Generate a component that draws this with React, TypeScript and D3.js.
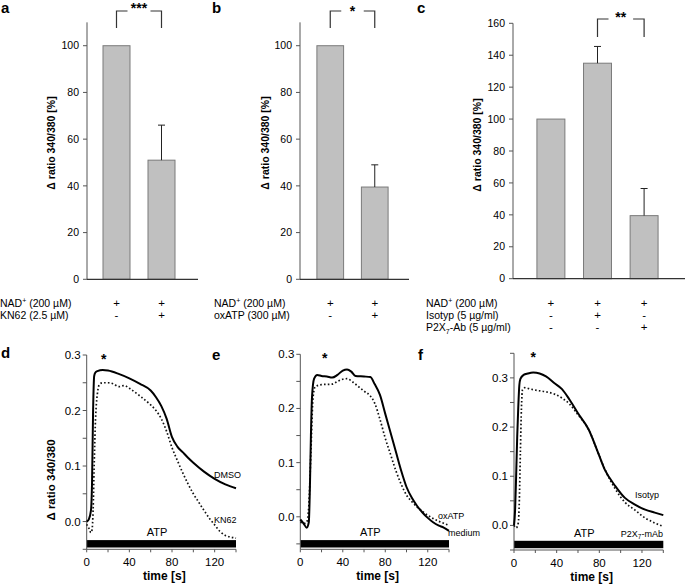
import React from "react";
import * as d3 from "d3";

const FONT = "'Liberation Sans', Arial, Helvetica, sans-serif";

// ---------- Bar panels (a, b, c) ----------
const catsA = ["NAD", "NAD+KN62"];
const valuesA = [100, 51];
const errorsA = [0, 15];
const signsA = [
  ["+", "+"],
  ["-", "+"],
];

const catsB = ["NAD", "NAD+oxATP"];
const valuesB = [100, 39.5];
const errorsB = [0, 9.5];
const signsB = [
  ["+", "+"],
  ["-", "+"],
];

const catsC = ["NAD", "NAD+Isotyp", "NAD+P2X7-Ab"];
const valuesC = [100, 135, 39.5];
const errorsC = [0, 10.5, 17];
const signsC = [
  ["+", "+", "+"],
  ["-", "+", "-"],
  ["-", "-", "+"],
];

const barTicksAB = [0, 20, 40, 60, 80, 100];
const barTicksC = [0, 20, 40, 60, 80, 100, 120, 140, 160];

// ---------- Line panels (d, e, f) ----------
const timeDmso = [0, 2, 4, 5, 6, 7, 8, 10, 15, 20, 30, 40, 50, 60, 65, 70, 75, 80, 85, 90, 95, 100, 110, 120, 130, 140];
const valDmso = [0.0, 0.004, 0.02, 0.07, 0.2, 0.262, 0.268, 0.271, 0.273, 0.272, 0.266, 0.258, 0.248, 0.236, 0.224, 0.208, 0.185, 0.152, 0.135, 0.125, 0.115, 0.106, 0.09, 0.077, 0.067, 0.06];
const timeKn62 = [0, 2, 4, 5, 6, 7, 8, 10, 12, 15, 20, 25, 30, 35, 40, 50, 60, 65, 70, 75, 80, 85, 90, 95, 100, 105, 110, 115, 120, 125, 130, 135, 140];
const valKn62 = [-0.005, -0.012, -0.02, -0.015, 0.02, 0.1, 0.17, 0.23, 0.247, 0.25, 0.25, 0.248, 0.243, 0.245, 0.24, 0.226, 0.21, 0.2, 0.185, 0.162, 0.133, 0.11, 0.088, 0.068, 0.05, 0.035, 0.02, 0.006, -0.006, -0.018, -0.025, -0.028, -0.03];

const timeMedium = [0, 3, 6, 8, 9, 10, 11, 13, 16, 20, 25, 30, 35, 40, 44, 48, 52, 60, 66, 70, 75, 80, 85, 90, 95, 100, 105, 110, 115, 120, 125, 130, 135, 140];
const valMedium = [-0.005, -0.012, -0.02, -0.01, 0.05, 0.15, 0.22, 0.255, 0.262, 0.26, 0.259, 0.257, 0.262, 0.27, 0.272, 0.268, 0.26, 0.259, 0.258, 0.245, 0.225, 0.19, 0.155, 0.12, 0.085, 0.055, 0.035, 0.02, 0.008, -0.002, -0.01, -0.016, -0.02, -0.026];
const timeOxAtp = [0, 4, 6, 8, 10, 12, 14, 20, 30, 35, 40, 44, 50, 55, 60, 65, 70, 75, 80, 85, 90, 95, 100, 105, 110, 115, 120, 125, 130, 135, 140];
const valOxAtp = [-0.01, -0.012, -0.01, 0.02, 0.12, 0.22, 0.24, 0.244, 0.245, 0.25, 0.254, 0.255, 0.248, 0.24, 0.232, 0.225, 0.21, 0.18, 0.145, 0.115, 0.085, 0.06, 0.04, 0.028, 0.018, 0.01, 0.003, -0.003, -0.008, -0.012, -0.016];

const timeIsotyp = [0, 1, 2, 3, 4, 5, 6, 9, 13, 18, 24, 30, 38, 45, 52, 60, 70, 79, 85, 95, 104, 113, 123, 132, 140];
const valIsotyp = [0.0, 0.03, 0.1, 0.18, 0.24, 0.285, 0.298, 0.306, 0.309, 0.311, 0.309, 0.303, 0.289, 0.277, 0.256, 0.228, 0.195, 0.147, 0.114, 0.08, 0.056, 0.043, 0.032, 0.026, 0.021];
const timeP2x7 = [0, 2, 4, 5, 6, 7, 8, 10, 16, 23, 29, 38, 45, 52, 60, 70, 79, 85, 95, 104, 113, 123, 132, 140];
const valP2x7 = [0.0, -0.005, 0.005, 0.05, 0.15, 0.24, 0.276, 0.28, 0.277, 0.274, 0.272, 0.267, 0.259, 0.247, 0.225, 0.195, 0.147, 0.115, 0.074, 0.047, 0.032, 0.015, 0.005, -0.002];

const timeTicks = [0, 20, 40, 60, 80, 100, 120, 140];
const timeTickLabels = ["0", "", "40", "", "80", "", "120", ""];
const ratioTicksDE = [-0.05, 0, 0.05, 0.1, 0.15, 0.2, 0.25, 0.3];
const ratioTicksF = [-0.05, 0, 0.05, 0.1, 0.15, 0.2, 0.25, 0.3, 0.35];
const ratioLabeled = [0, 0.1, 0.2, 0.3];

const AXIS = "#555";

function NadLabel({ x, y }: { x: number; y: number }) {
  return (
    <text x={x} y={y} fontSize={10.5}>
      NAD<tspan dy={-4} fontSize={7}>+</tspan>
      <tspan dy={4}> (200 µM)</tspan>
    </text>
  );
}

type BarProps = {
  cats: string[];
  values: number[];
  errors: number[];
  y: d3.ScaleLinear<number, number>;
  bandRange: [number, number];
  axisX: number;
  axisEnd: number;
  ticks: number[];
  titleX: number;
  titleY: number;
  bracket: { i: number; j: number; top: number; bottom: number; label: string; labelY: number; gap: number };
  signs: string[][];
  rowLabels: React.ReactNode[];
};

const rowYs = [307, 319, 331];

function BarPanel(p: BarProps) {
  const x = d3.scaleBand<string>().domain(p.cats).range(p.bandRange).paddingInner(0.4).paddingOuter(0.2);
  const bw = x.bandwidth();
  const y0 = p.y(0);
  const yTop = p.y.range()[1];
  const c = (k: number) => (x(p.cats[k]) as number) + bw / 2;
  const b = p.bracket;
  const ci = c(b.i);
  const cj = c(b.j);
  const mid = (ci + cj) / 2;
  return (
    <g>
      <line x1={p.axisX} x2={p.axisX} y1={yTop} y2={y0} stroke={AXIS} strokeWidth={1} />
      {p.ticks.map((t) => (
        <g key={t}>
          <line x1={p.axisX - 4} x2={p.axisX} y1={p.y(t)} y2={p.y(t)} stroke={AXIS} />
          <text x={p.axisX - 8} y={p.y(t) + 3.7} fontSize={10.5} textAnchor="end">
            {t}
          </text>
        </g>
      ))}
      <text
        transform={`translate(${p.titleX},${p.titleY}) rotate(-90)`}
        fontSize={10.5}
        fontWeight="bold"
        textAnchor="middle"
      >
        Δ ratio 340/380 [%]
      </text>
      {p.cats.map((cat, k) => (
        <rect
          key={cat}
          x={x(cat)}
          y={p.y(p.values[k])}
          width={bw}
          height={y0 - p.y(p.values[k])}
          fill="#c0c0c0"
          stroke="#7a7a7a"
          strokeWidth={1}
        />
      ))}
      {p.cats.map((cat, k) =>
        p.errors[k] > 0 ? (
          <g key={cat + "e"} stroke="#222" strokeWidth={1}>
            <line x1={c(k)} x2={c(k)} y1={p.y(p.values[k])} y2={p.y(p.values[k] + p.errors[k])} />
            <line x1={c(k) - 3.5} x2={c(k) + 3.5} y1={p.y(p.values[k] + p.errors[k])} y2={p.y(p.values[k] + p.errors[k])} />
          </g>
        ) : null
      )}
      <line x1={p.axisX} x2={p.axisEnd} y1={y0} y2={y0} stroke="#333" strokeWidth={1.3} />
      <path
        d={`M${ci},${b.bottom}V${b.top}H${ci + b.gap} M${cj - b.gap},${b.top}H${cj}V${b.bottom}`}
        fill="none"
        stroke="#333"
        strokeWidth={1.2}
      />
      <text x={mid} y={b.labelY} fontSize={14} fontWeight="bold" textAnchor="middle">
        {b.label}
      </text>
      {p.signs.map((row, r) => (
        <g key={r}>
          {row.map((s, k) => (
            <text key={k} x={c(k)} y={rowYs[r]} fontSize={11.5} textAnchor="middle" fill="#000">
              {s}
            </text>
          ))}
        </g>
      ))}
      {p.rowLabels.map((lab, r) => (
        <g key={"l" + r}>{lab}</g>
      ))}
    </g>
  );
}

type LineProps = {
  xRange: [number, number];
  yDomain: [number, number];
  yRange: [number, number];
  yTicks: number[];
  solidT: number[];
  solidV: number[];
  dotT: number[];
  dotV: number[];
  starT: number;
  atpT: number;
  title?: boolean;
  children?: React.ReactNode;
};

function LinePanel(p: LineProps) {
  const x = d3.scaleLinear().domain([0, 140]).range(p.xRange);
  const y = d3.scaleLinear().domain(p.yDomain).range(p.yRange);
  const axisY = p.yRange[0];
  const line = d3
    .line<[number, number]>()
    .x((d) => x(d[0]))
    .y((d) => y(d[1]))
    .curve(d3.curveMonotoneX);
  const solid = line(p.solidT.map((t, i) => [t, p.solidV[i]] as [number, number])) || "";
  const dot = line(p.dotT.map((t, i) => [t, p.dotV[i]] as [number, number])) || "";
  const x0 = x(0);
  return (
    <g>
      <rect x={x(0)} y={axisY - 9.2} width={x(140) - x(0)} height={7.4} fill="#000" />
      <text x={x(p.atpT)} y={axisY - 13} fontSize={11} textAnchor="middle">
        ATP
      </text>
      <line x1={x0} x2={x0} y1={p.yRange[1]} y2={axisY} stroke={AXIS} strokeWidth={1} />
      <line x1={x0} x2={x(140)} y1={axisY} y2={axisY} stroke={AXIS} strokeWidth={1} />
      {p.yTicks.map((t) => (
        <g key={t}>
          <line x1={x0 - 4} x2={x0} y1={y(t)} y2={y(t)} stroke={AXIS} />
          {ratioLabeled.some((v) => Math.abs(v - t) < 1e-9) ? (
            <text x={x0 - 6} y={y(t) + 4} fontSize={11.5} textAnchor="end">
              {d3.format(".1f")(t)}
            </text>
          ) : null}
        </g>
      ))}
      {timeTicks.map((t, i) => (
        <g key={t}>
          <line x1={x(t)} x2={x(t)} y1={axisY} y2={axisY + 3} stroke={AXIS} />
          {timeTickLabels[i] ? (
            <text x={x(t)} y={axisY + 16.5} fontSize={11.5} textAnchor="middle">
              {timeTickLabels[i]}
            </text>
          ) : null}
        </g>
      ))}
      <text x={(x(0) + x(140)) / 2 + 3} y={axisY + 31} fontSize={12} fontWeight="bold" textAnchor="middle">
        time [s]
      </text>
      {p.title ? (
        <text transform={`translate(${x0 - 32},480) rotate(-90)`} fontSize={11.5} fontWeight="bold" textAnchor="middle">
          Δ ratio 340/380
        </text>
      ) : null}
      <path d={dot} fill="none" stroke="#111" strokeWidth={1.7} strokeDasharray="1.6 2.2" />
      <path d={solid} fill="none" stroke="#000" strokeWidth={2} />
      <text x={x(p.starT)} y={p.yRange[1] + 9} fontSize={14} fontWeight="bold" textAnchor="middle">
        *
      </text>
      {p.children}
    </g>
  );
}

export default function App() {
  const yAB = d3.scaleLinear().domain([0, 110]).range([279.3, 22.35]);
  const yC = d3.scaleLinear().domain([0, 160]).range([278.7, 23.3]);
  return (
    <svg
      width={685}
      height={584}
      viewBox="0 0 685 584"
      style={{ position: "absolute", left: 0, top: 0, background: "#fff" }}
      fontFamily={FONT}
    >
      <rect width={685} height={584} fill="#fff" />
      <g fontSize={15} fontWeight="bold">
        <text x={1} y={13}>a</text>
        <text x={212} y={13}>b</text>
        <text x={417} y={13}>c</text>
        <text x={1} y={358}>d</text>
        <text x={212} y={360}>e</text>
        <text x={418} y={360}>f</text>
      </g>

      <BarPanel
        cats={catsA}
        values={valuesA}
        errors={errorsA}
        y={yAB}
        bandRange={[94, 184]}
        axisX={87}
        axisEnd={198}
        ticks={barTicksAB}
        titleX={55}
        titleY={143}
        bracket={{ i: 0, j: 1, top: 11, bottom: 28, label: "***", labelY: 13, gap: 11 }}
        signs={signsA}
        rowLabels={[
          <NadLabel key="n" x={0} y={rowYs[0]} />,
          <text key="k" x={0} y={rowYs[1]} fontSize={10.5}>KN62 (2.5 µM)</text>,
        ]}
      />
      <BarPanel
        cats={catsB}
        values={valuesB}
        errors={errorsB}
        y={yAB}
        bandRange={[308, 397]}
        axisX={300}
        axisEnd={409}
        ticks={barTicksAB}
        titleX={269}
        titleY={143}
        bracket={{ i: 0, j: 1, top: 11, bottom: 28, label: "*", labelY: 16, gap: 11 }}
        signs={signsB}
        rowLabels={[
          <NadLabel key="n" x={214} y={rowYs[0]} />,
          <text key="o" x={214} y={rowYs[1]} fontSize={10.5}>oxATP (300 µM)</text>,
        ]}
      />
      <BarPanel
        cats={catsC}
        values={valuesC}
        errors={errorsC}
        y={yC}
        bandRange={[527.6, 667.4]}
        axisX={513}
        axisEnd={685}
        ticks={barTicksC}
        titleX={481}
        titleY={145}
        bracket={{ i: 1, j: 2, top: 19, bottom: 37, label: "**", labelY: 22, gap: 11 }}
        signs={signsC}
        rowLabels={[
          <NadLabel key="n" x={426} y={rowYs[0]} />,
          <text key="i" x={426} y={rowYs[1]} fontSize={10.5}>Isotyp (5 µg/ml)</text>,
          <text key="p" x={426} y={rowYs[2]} fontSize={10.5}>
            P2X<tspan dy={3} fontSize={7}>7</tspan>
            <tspan dy={-3}>-Ab (5 µg/ml)</tspan>
          </text>,
        ]}
      />

      <LinePanel
        xRange={[86.7, 236]}
        yDomain={[-0.05, 0.3]}
        yRange={[549.3, 355]}
        yTicks={ratioTicksDE}
        solidT={timeDmso}
        solidV={valDmso}
        dotT={timeKn62}
        dotV={valKn62}
        starT={16}
        atpT={66}
        title
      >
        <text x={214} y={478} fontSize={9}>DMSO</text>
        <text x={214} y={523} fontSize={9}>KN62</text>
      </LinePanel>
      <LinePanel
        xRange={[300.3, 449]}
        yDomain={[-0.06, 0.3]}
        yRange={[549.3, 354.3]}
        yTicks={ratioTicksDE}
        solidT={timeMedium}
        solidV={valMedium}
        dotT={timeOxAtp}
        dotV={valOxAtp}
        starT={23}
        atpT={66}
      >
        <text x={438} y={519} fontSize={9}>oxATP</text>
        <text x={448} y={536} fontSize={9}>medium</text>
      </LinePanel>
      <LinePanel
        xRange={[514, 663.3]}
        yDomain={[-0.05, 0.35]}
        yRange={[550, 353.3]}
        yTicks={ratioTicksF}
        solidT={timeIsotyp}
        solidV={valIsotyp}
        dotT={timeP2x7}
        dotV={valP2x7}
        starT={18}
        atpT={66}
      >
        <text x={635} y={498} fontSize={9}>Isotyp</text>
        <text x={663} y={536.5} fontSize={9} textAnchor="end">
          P2X<tspan dy={2.5} fontSize={6.5}>7</tspan>
          <tspan dy={-2.5}>-mAb</tspan>
        </text>
      </LinePanel>
    </svg>
  );
}
